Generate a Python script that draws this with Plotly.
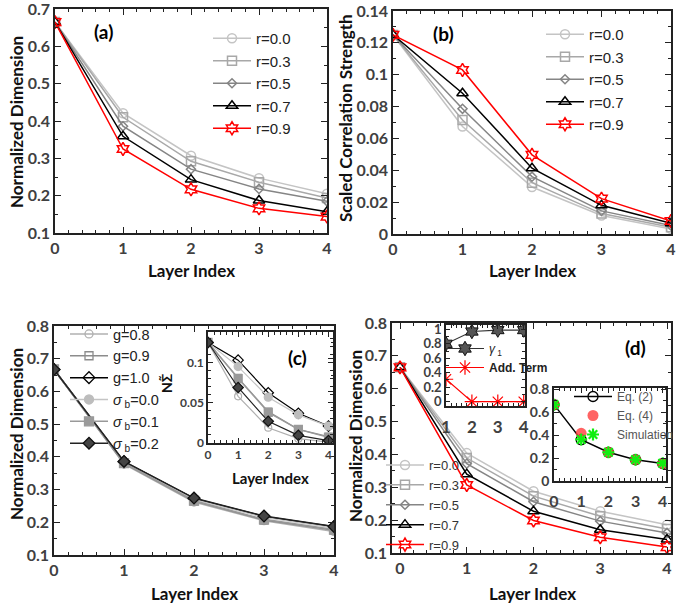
import plotly.graph_objects as go

W, H = 676, 605

# ---------------- data ----------------
layers = [0, 1, 2, 3, 4]
r_names = ["r=0.0", "r=0.3", "r=0.5", "r=0.7", "r=0.9"]

# panel (a) normalized dimension
a_r00 = [0.665, 0.421, 0.307, 0.247, 0.205]
a_r03 = [0.665, 0.410, 0.292, 0.236, 0.194]
a_r05 = [0.665, 0.386, 0.271, 0.218, 0.185]
a_r07 = [0.665, 0.359, 0.243, 0.187, 0.157]
a_r09 = [0.665, 0.325, 0.217, 0.166, 0.144]

# panel (b) scaled correlation strength
b_r00 = [0.125, 0.0675, 0.0295, 0.0116, 0.0032]
b_r03 = [0.125, 0.0716, 0.0322, 0.0128, 0.0042]
b_r05 = [0.125, 0.0786, 0.0360, 0.0145, 0.0053]
b_r07 = [0.125, 0.0884, 0.0413, 0.0180, 0.0067]
b_r09 = [0.125, 0.1030, 0.0497, 0.0222, 0.0082]

# panel (c) main
c_names = ["g=0.8", "g=0.9", "g=1.0",
           "<i>σ</i><sub> b</sub>=0.0", "<i>σ</i><sub> b</sub>=0.1", "<i>σ</i><sub> b</sub>=0.2"]
c_g08 = [0.667, 0.378, 0.262, 0.205, 0.172]
c_g09 = [0.667, 0.380, 0.265, 0.207, 0.176]
c_g10 = [0.667, 0.385, 0.273, 0.218, 0.186]
c_s00 = [0.667, 0.383, 0.270, 0.215, 0.183]
c_s01 = [0.667, 0.381, 0.266, 0.209, 0.178]
c_s02 = [0.667, 0.386, 0.274, 0.219, 0.187]

# panel (c) inset
ci_g08 = [0.125, 0.058, 0.019, 0.0054, 0.001]
ci_g09 = [0.125, 0.081, 0.039, 0.017, 0.008]
ci_g10 = [0.125, 0.103, 0.0625, 0.037, 0.021]
ci_s00 = [0.125, 0.095, 0.057, 0.035, 0.021]
ci_s01 = [0.125, 0.080, 0.038, 0.017, 0.007]
ci_s02 = [0.125, 0.069, 0.027, 0.0095, 0.003]

# panel (d) main
d_r00 = [0.665, 0.404, 0.288, 0.227, 0.186]
d_r03 = [0.665, 0.389, 0.273, 0.212, 0.173]
d_r05 = [0.665, 0.372, 0.256, 0.197, 0.161]
d_r07 = [0.665, 0.340, 0.227, 0.171, 0.141]
d_r09 = [0.665, 0.307, 0.199, 0.148, 0.118]

# panel (d) inset 1
d1_layers = [1, 2, 3, 4]
d1_gamma1 = [0.80, 0.97, 0.99, 0.99]
d1_addterm = [0.31, 0.0, 0.0, 0.0]

# panel (d) inset 2
d2_eq2 = [0.665, 0.360, 0.250, 0.186, 0.152]
d2_eq4 = [0.665, 0.415, 0.250, 0.186, 0.152]
d2_sim = [0.665, 0.362, 0.250, 0.186, 0.155]

# ---------------- helpers ----------------
def px_x(a, b):
    return [a / W, b / W]

def px_y(top, bottom):
    return [1 - bottom / H, 1 - top / H]

AX = "#222222"
TICKC = "#404040"

def axis(domain, rng, dtick, mdtick, anchor, fsize, standoff=None, ticklen=6):
    d = dict(domain=domain, range=rng, dtick=dtick, tick0=0, ticks="inside",
             ticklen=ticklen, tickwidth=1.2, tickcolor=AX, showline=True,
             linecolor=AX, linewidth=1.5, mirror="allticks", showgrid=False,
             zeroline=False, anchor=anchor, automargin=False,
             ticklabeloverflow="allow",
             minor=dict(dtick=mdtick, tick0=0, ticks="inside", ticklen=3,
                        tickwidth=1, tickcolor=AX, showgrid=False),
             tickfont=dict(family="Lato", size=fsize, color=TICKC, weight="bold"))
    if standoff is not None:
        d["ticklabelstandoff"] = standoff
    return d

fig = go.Figure()

r_colors = ["#c4c4c4", "#a8a8a8", "#858585", "#000000", "#ff0000"]
r_symbols = ["circle-open", "square-open", "diamond-open", "triangle-up-open", "hexagram-open"]
r_sizes = [9, 9, 7, 10, 10]

def add_r(series, xa, ya, legend, showlegend=True):
    for name, ys, col, sym, sz in zip(r_names, series, r_colors, r_symbols, r_sizes):
        fig.add_trace(go.Scatter(x=layers, y=ys, name=name, mode="lines+markers",
                                 line=dict(color=col, width=1.5),
                                 marker=dict(symbol=sym, size=sz, color=col,
                                             line=dict(color=col, width=1.5)),
                                 xaxis=xa, yaxis=ya, legend=legend,
                                 showlegend=showlegend))

add_r([a_r00, a_r03, a_r05, a_r07, a_r09], "x", "y", "legend")
add_r([b_r00, b_r03, b_r05, b_r07, b_r09], "x2", "y2", "legend2")

c_styles = [
    dict(line="#b0b0b0", mcol="#b0b0b0", sym="circle-open", sz=8, mline="#b0b0b0"),
    dict(line="#8c8c8c", mcol="#8c8c8c", sym="square-open", sz=8, mline="#8c8c8c"),
    dict(line="#000000", mcol="#000000", sym="diamond-open", sz=9, mline="#000000"),
    dict(line="#c4c4c4", mcol="#bdbdbd", sym="circle", sz=9, mline="#bdbdbd"),
    dict(line="#999999", mcol="#9a9a9a", sym="square", sz=9, mline="#9a9a9a"),
    dict(line="#222222", mcol="#444444", sym="diamond", sz=9, mline="#111111"),
]

for name, ys, st in zip(c_names, [c_g08, c_g09, c_g10, c_s00, c_s01, c_s02], c_styles):
    fig.add_trace(go.Scatter(x=layers, y=ys, name=name, mode="lines+markers",
                             line=dict(color=st["line"], width=1.5),
                             marker=dict(symbol=st["sym"], size=st["sz"], color=st["mcol"],
                                         line=dict(color=st["mline"], width=1.3)),
                             xaxis="x3", yaxis="y3", legend="legend3"))
for name, ys, st in zip(c_names, [ci_g08, ci_g09, ci_g10, ci_s00, ci_s01, ci_s02], c_styles):
    fig.add_trace(go.Scatter(x=layers, y=ys, name=name, mode="lines+markers",
                             line=dict(color=st["line"], width=1.2),
                             marker=dict(symbol=st["sym"], size=st["sz"] - 1, color=st["mcol"],
                                         line=dict(color=st["mline"], width=1.2)),
                             xaxis="x4", yaxis="y4", showlegend=False))

add_r([d_r00, d_r03, d_r05, d_r07, d_r09], "x5", "y5", "legend4")

fig.add_trace(go.Scatter(x=d1_layers, y=d1_gamma1, name="<i>γ</i><sub> 1</sub>",
                         mode="lines+markers", line=dict(color="#333333", width=1.2),
                         marker=dict(symbol="hexagram", size=11, color="#555555",
                                     line=dict(color="#111111", width=1)),
                         xaxis="x6", yaxis="y6", legend="legend5"))
fig.add_trace(go.Scatter(x=d1_layers, y=d1_addterm, name="<b>Add. Term</b>",
                         mode="lines+markers", line=dict(color="#ff0000", width=1.2),
                         marker=dict(symbol="asterisk-open", size=12, color="#ff0000",
                                     line=dict(color="#ff0000", width=1.2)),
                         xaxis="x6", yaxis="y6", legend="legend5"))

fig.add_trace(go.Scatter(x=layers, y=d2_eq2, name="Eq. (2)", mode="lines+markers",
                         line=dict(color="#000000", width=1.5),
                         marker=dict(symbol="circle-open", size=10, color="#000000",
                                     line=dict(color="#000000", width=1.3)),
                         xaxis="x7", yaxis="y7", legend="legend6"))
fig.add_trace(go.Scatter(x=layers, y=d2_eq4, name="Eq. (4)", mode="markers",
                         marker=dict(symbol="circle", size=11, color="rgba(255,60,60,0.8)",
                                     line=dict(width=0)),
                         xaxis="x7", yaxis="y7", legend="legend6"))
fig.add_trace(go.Scatter(x=layers, y=d2_sim, name="Simulation", mode="markers",
                         marker=dict(symbol="asterisk-open", size=10, color="#11ee11",
                                     line=dict(color="#11ee11", width=2.2)),
                         xaxis="x7", yaxis="y7", legend="legend6"))

# ---------------- axes ----------------
lay = dict(
    xaxis=axis(px_x(55, 327), [0, 4.0], 1, 0.2, "y", 16),
    yaxis=axis(px_y(9, 233), [0.1, 0.7001], 0.1, 0.05, "x", 16),
    xaxis2=axis(px_x(393, 671), [0, 4.0], 1, 0.2, "y2", 16),
    yaxis2=axis(px_y(11, 234), [0, 0.14], 0.02, 0.01, "x2", 16),
    xaxis3=axis(px_x(54, 334), [0, 4.0], 1, 0.2, "y3", 16),
    yaxis3=axis(px_y(326, 555), [0.1, 0.8], 0.1, 0.05, "x3", 16),
    xaxis4=axis(px_x(208, 333), [0, 4.15], 1, 0.2, "y4", 12, ticklen=5),
    yaxis4=axis(px_y(332, 443), [0, 0.138], 0.05, 0.01, "x4", 12, ticklen=5),
    xaxis5=axis(px_x(392, 671), [-0.12, 4.06], 1, 0.2, "y5", 16),
    yaxis5=axis(px_y(323, 553), [0.1, 0.8], 0.1, 0.05, "x5", 16),
    xaxis6=axis(px_x(446, 525), [1, 4.05], 1, 0.2, "y6", 17, standoff=5, ticklen=4),
    yaxis6=axis(px_y(325, 406), [-0.06, 1.06], 0.2, 0.1, "x6", 13, ticklen=4),
    xaxis7=axis(px_x(554, 666), [0, 4.12], 1, 0.2, "y7", 16, standoff=5, ticklen=5),
    yaxis7=axis(px_y(388, 481), [0, 0.81], 0.2, 0.1, "x7", 14, ticklen=5),
)

leg_common = dict(bgcolor="rgba(0,0,0,0)", xanchor="left", yanchor="top",
                  xref="paper", yref="paper", traceorder="normal", borderwidth=0,
                  itemwidth=38)

def leg(xp, yp, size, color="#222222"):
    d = dict(leg_common)
    d.update(x=xp / W, y=1 - yp / H, font=dict(family="Liberation Sans", size=size, color=color))
    return d

lay["legend"] = leg(208, 22, 15)
lay["legend2"] = leg(541, 18, 15)
lay["legend3"] = leg(65, 318, 14.5)
lay["legend4"] = leg(381, 450, 13, "#333333")
lay["legend5"] = leg(441, 334, 12)
lay["legend6"] = leg(569, 382, 12, "#555555")

ann = []
def text(x, y, s, size, angle=0, color="#111111", family="Lato"):
    ann.append(dict(x=x / W, y=1 - y / H, xref="paper", yref="paper", text=s,
                    showarrow=False, textangle=angle, xanchor="center", yanchor="middle",
                    font=dict(family=family, size=size, color=color, weight="bold")))

text(16, 122, "Normalized Dimension", 17, -90)
text(345, 118, "Scaled Correlation Strength", 17, -90)
text(16, 434, "Normalized Dimension", 17, -90)
text(355, 436, "Normalized Dimension", 17, -90)
text(191, 270, "Layer Index", 17)
text(532, 270, "Layer Index", 17)
text(194, 593, "Layer Index", 17)
text(532, 593, "Layer Index", 17)
text(270, 478, "Layer Index", 15)
text(166, 383, "N\u03a3\u0303", 14, -90, color="#111111")
text(103, 32, "(a)", 19, color="#000000")
text(443, 34, "(b)", 19, color="#000000")
text(297, 357, "(c)", 19, color="#000000")
text(635, 347, "(d)", 19, color="#000000")

fig.update_layout(**lay)
fig.update_layout(template="none", annotations=ann, width=W, height=H,
                  margin=dict(l=0, r=0, t=0, b=0, autoexpand=False),
                  paper_bgcolor="white", plot_bgcolor="rgba(0,0,0,0)",
                  font=dict(family="Lato"))

fig.write_html("out.html", config={"displayModeBar": False},
               post_script="document.body.style.margin='0';document.body.style.overflow='hidden';")
